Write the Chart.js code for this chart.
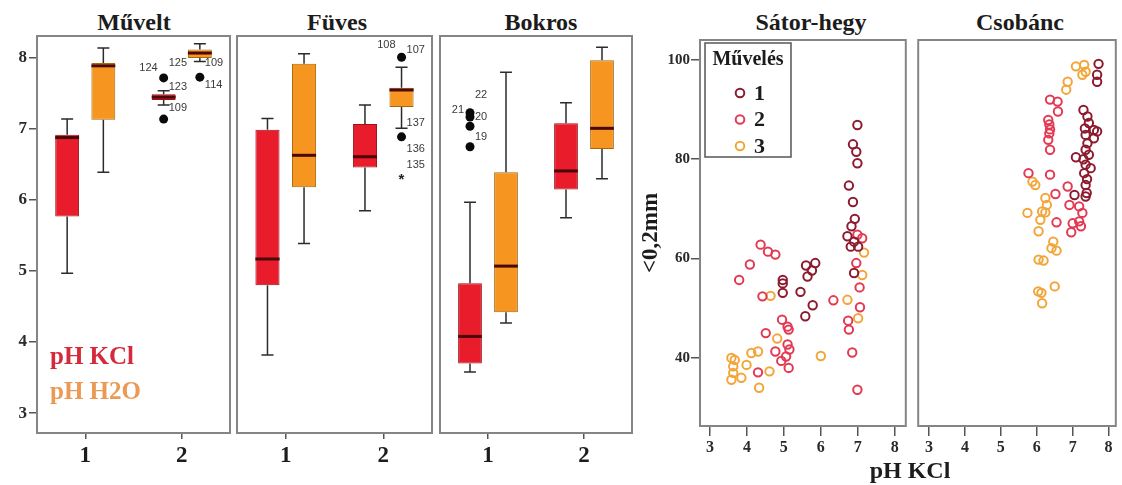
<!DOCTYPE html>
<html>
<head>
<meta charset="utf-8">
<script src="https://cdn.jsdelivr.net/npm/chart.js@4.4.0/dist/chart.umd.min.js"></script>
<style>
  body { margin: 0; background: #fff; }
  #page { position: relative; width: 1122px; height: 485px; overflow: hidden; background: #fff;
          font-family: 'Liberation Serif', 'Times New Roman', serif; }
  canvas { position: absolute; top: 0; }
  .ttl { position: absolute; top: 10px; font-weight: bold; font-size: 24px; color: #1c1c1c;
         transform: translateX(-50%); white-space: nowrap; line-height: 1; }
  .key { position: absolute; left: 50px; font-weight: bold; font-size: 25px; line-height: 1; white-space: nowrap; }
  .xname { position: absolute; top: 458px; left: 910px; transform: translateX(-50%); font-weight: bold;
           font-size: 24px; color: #1c1c1c; line-height: 1; white-space: nowrap; }
</style>
</head>
<body>
<div id="page">
  <div class="ttl" style="left:134px">Művelt</div>
  <div class="ttl" style="left:337px">Füves</div>
  <div class="ttl" style="left:541px">Bokros</div>
  <div class="ttl" style="left:811px">Sátor-hegy</div>
  <div class="ttl" style="left:1020px">Csobánc</div>

  <canvas id="cMuvelt" width="232" height="485" style="left:0px"></canvas>
  <canvas id="cFuves" width="199" height="485" style="left:235px"></canvas>
  <canvas id="cBokros" width="196" height="485" style="left:438px"></canvas>
  <canvas id="cSator" width="276" height="485" style="left:636px"></canvas>
  <canvas id="cCsobanc" width="210" height="485" style="left:912px"></canvas>

  <div class="key" style="top:343px;color:#d42a3c">pH KCl</div>
  <div class="key" style="top:378px;color:#eb9a55">pH H2O</div>
  <div class="xname">pH KCl</div>
</div>

<script>
const SERIF = "'Liberation Serif', 'Times New Roman', serif";
const SANS = "'Liberation Sans', Arial, sans-serif";

// ---- pH by land use: five-number summaries [lower whisker, Q1, median, Q3, upper whisker]
const groupLabels = ['1', '2'];
const seriesNames = ['pH KCl', 'pH H2O'];
const muveltKCl = [[4.97, 5.77, 6.88, 6.92, 7.14], [7.34, 7.41, 7.45, 7.49, 7.54]];
const muveltH2O = [[6.39, 7.13, 7.89, 7.93, 8.14], [7.95, 8.00, 8.07, 8.12, 8.20]];
const fuvesKCl  = [[3.82, 4.80, 5.17, 6.99, 7.15], [5.85, 6.46, 6.61, 7.07, 7.34]];
const fuvesH2O  = [[5.39, 6.18, 6.63, 7.92, 8.06], [7.01, 7.31, 7.55, 7.58, 7.87]];
const bokrosKCl = [[3.58, 3.70, 4.08, 4.83, 5.97], [5.75, 6.15, 6.41, 7.08, 7.37]];
const bokrosH2O = [[4.27, 4.42, 5.07, 6.39, 7.80], [6.30, 6.72, 7.01, 7.97, 8.15]];
const phTicks = [3, 4, 5, 6, 7, 8];

// outlying cases: [panel, group index, series index, value, marker]
const outlierCases = [
  ['Művelt', 1, 0, 7.72, 'dot'],
  ['Művelt', 1, 0, 7.14, 'dot'],
  ['Művelt', 1, 1, 7.73, 'dot'],
  ['Füves', 1, 1, 8.01, 'dot'],
  ['Füves', 1, 1, 6.89, 'dot'],
  ['Füves', 1, 1, 6.32, 'star'],
  ['Bokros', 0, 0, 7.23, 'dot'],
  ['Bokros', 0, 0, 7.17, 'dot'],
  ['Bokros', 0, 0, 7.04, 'dot'],
  ['Bokros', 0, 0, 6.75, 'dot']
];
// case numbers: [panel, group index, series index, text, value, side]
const caseNumbers = [
  ['Művelt', 1, 0, '124', 7.86, 'left'],
  ['Művelt', 1, 0, '125', 7.93, 'right'],
  ['Művelt', 1, 0, '123', 7.59, 'right'],
  ['Művelt', 1, 0, '109', 7.30, 'right'],
  ['Művelt', 1, 1, '109', 7.93, 'right'],
  ['Művelt', 1, 1, '114', 7.62, 'right'],
  ['Füves', 1, 1, '108', 8.18, 'left'],
  ['Füves', 1, 1, '107', 8.11, 'right'],
  ['Füves', 1, 1, '137', 7.08, 'right'],
  ['Füves', 1, 1, '136', 6.72, 'right'],
  ['Füves', 1, 1, '135', 6.50, 'right'],
  ['Bokros', 0, 0, '22', 7.48, 'right'],
  ['Bokros', 0, 0, '21', 7.27, 'left'],
  ['Bokros', 0, 0, '20', 7.17, 'right'],
  ['Bokros', 0, 0, '19', 6.89, 'right']
];

// ---- fine fraction (<0,2mm) against pH KCl, by cultivation class (Művelés)
const cultivationClasses = ['1', '2', '3'];
const satorClass1 = [[6.99, 86.9], [6.87, 83.0], [6.96, 81.5], [6.99, 79.2], [6.76, 74.7], [6.87, 71.4],
  [6.92, 68.0], [6.83, 66.5], [6.72, 64.5], [6.81, 62.4], [7.01, 62.4], [6.90, 63.4], [6.90, 57.1],
  [5.60, 58.6], [5.85, 59.1], [5.76, 57.6], [5.64, 56.4], [5.45, 53.3], [5.78, 50.6], [5.58, 48.4],
  [4.97, 55.7], [4.97, 55.0], [4.97, 53.1]];
const satorClass2 = [[6.99, 64.8], [7.12, 64.1], [6.96, 59.1], [7.05, 54.2], [7.06, 50.2], [6.74, 47.5],
  [6.76, 45.7], [6.34, 51.6], [6.85, 41.1], [6.99, 33.6], [4.37, 62.8], [4.57, 61.4], [4.77, 60.8],
  [4.08, 58.8], [3.79, 55.7], [4.42, 52.4], [4.95, 47.7], [5.10, 46.3], [5.13, 45.7], [4.51, 45.0],
  [5.10, 42.7], [5.15, 41.7], [5.06, 40.3], [4.77, 41.3], [4.93, 39.4], [5.13, 38.0], [4.30, 37.1]];
const satorClass3 = [[7.17, 61.2], [7.12, 56.7], [7.01, 48.0], [6.72, 51.7], [4.64, 52.5], [4.82, 43.9],
  [4.61, 37.3], [4.33, 34.0], [6.00, 40.4], [3.58, 40.0], [3.63, 38.3], [3.63, 37.0], [3.58, 35.6],
  [3.85, 36.0], [3.99, 38.6], [4.12, 41.0], [4.30, 41.3], [3.67, 39.6]];
const csobancClass1 = [[7.72, 99.2], [7.68, 97.0], [7.68, 95.6], [7.30, 89.9], [7.41, 88.6], [7.45, 87.3],
  [7.59, 85.9], [7.68, 85.6], [7.36, 84.9], [7.59, 84.2], [7.41, 83.2], [7.36, 81.9], [7.45, 80.9],
  [7.09, 80.4], [7.30, 80.0], [7.36, 78.9], [7.50, 78.2], [7.32, 77.2], [7.36, 74.8], [7.39, 73.2],
  [7.36, 72.5], [7.05, 72.8], [7.34, 86.2], [7.40, 76.0]];
const csobancClass2 = [[6.37, 92.0], [6.58, 91.6], [6.59, 89.6], [6.32, 87.9], [6.35, 87.0], [6.37, 86.0],
  [6.35, 85.2], [6.32, 83.9], [6.37, 81.9], [6.86, 74.5], [6.91, 70.8], [7.18, 70.5], [7.27, 69.2],
  [7.18, 67.5], [7.00, 67.1], [7.23, 66.5], [6.96, 65.3], [6.55, 67.3], [6.52, 73.0], [6.37, 76.9],
  [5.77, 77.2]];
const csobancClass3 = [[7.09, 98.7], [7.32, 99.0], [7.36, 97.6], [7.27, 97.0], [6.86, 95.6], [6.82, 94.0],
  [5.88, 75.5], [5.96, 74.8], [6.24, 72.2], [6.28, 70.8], [6.15, 69.5], [6.24, 69.3], [5.74, 69.2],
  [6.10, 67.8], [6.05, 65.5], [6.46, 63.4], [6.41, 62.1], [6.55, 61.6], [6.05, 59.8], [6.19, 59.6],
  [6.50, 54.4], [6.04, 53.4], [6.13, 53.1], [6.15, 51.0]];
const fineTicks = [40, 60, 80, 100];
const phKclTicks = [3, 4, 5, 6, 7, 8];

// ---- styling
const KCL_FILL = '#e81c2a', KCL_EDGE = '#9c1018';
const H2O_FILL = '#f6951f', H2O_EDGE = '#a9680e';
const CLASS_COLORS = ['#8c1b2f', '#e23a52', '#f2a63a'];
const FRAME = '#858585';

// panel outline around the plotting area
const framePlugin = {
  id: 'frame',
  afterDraw(chart) {
    const { ctx, chartArea: a } = chart;
    ctx.save();
    ctx.strokeStyle = FRAME;
    ctx.lineWidth = 2;
    ctx.strokeRect(a.left, a.top, a.right - a.left, a.bottom - a.top);
    ctx.restore();
  }
};

// whiskers, medians, outliers and case numbers on top of the floating bars
const boxPlugin = {
  id: 'boxDetail',
  beforeDatasetsDraw(chart) {
    const ctx = chart.ctx, y = chart.scales.y;
    ctx.save();
    ctx.strokeStyle = '#2b2b2b';
    ctx.lineWidth = 1.5;
    chart.data.datasets.forEach((ds, di) => {
      chart.getDatasetMeta(di).data.forEach((bar, i) => {
        const s = ds.stats[i];
        const cap = bar.width * 0.5;
        const yMin = y.getPixelForValue(s[0]), yQ1 = y.getPixelForValue(s[1]);
        const yQ3 = y.getPixelForValue(s[3]), yMax = y.getPixelForValue(s[4]);
        ctx.beginPath();
        ctx.moveTo(bar.x, yQ1); ctx.lineTo(bar.x, yMin);
        ctx.moveTo(bar.x, yQ3); ctx.lineTo(bar.x, yMax);
        ctx.moveTo(bar.x - cap / 2, yMin); ctx.lineTo(bar.x + cap / 2, yMin);
        ctx.moveTo(bar.x - cap / 2, yMax); ctx.lineTo(bar.x + cap / 2, yMax);
        ctx.stroke();
      });
    });
    ctx.restore();
  },
  afterDatasetsDraw(chart, args, opts) {
    const ctx = chart.ctx, y = chart.scales.y;
    const barAt = (g, s) => chart.getDatasetMeta(s).data[g];
    ctx.save();
    // medians
    ctx.strokeStyle = '#4a0808';
    ctx.lineWidth = 3;
    chart.data.datasets.forEach((ds, di) => {
      chart.getDatasetMeta(di).data.forEach((bar, i) => {
        const ym = y.getPixelForValue(ds.stats[i][2]);
        ctx.beginPath();
        ctx.moveTo(bar.x - bar.width / 2, ym);
        ctx.lineTo(bar.x + bar.width / 2, ym);
        ctx.stroke();
      });
    });
    // outlying cases
    outlierCases.filter(o => o[0] === opts.panel).forEach(([, g, s, v, marker]) => {
      const bar = barAt(g, s);
      const py = y.getPixelForValue(v);
      if (marker === 'dot') {
        ctx.fillStyle = '#0a0a0a';
        ctx.beginPath();
        ctx.arc(bar.x, py, 4.5, 0, Math.PI * 2);
        ctx.fill();
      } else {
        ctx.fillStyle = '#222';
        ctx.font = 'bold 15px ' + SANS;
        ctx.textAlign = 'center';
        ctx.textBaseline = 'middle';
        ctx.fillText('*', bar.x, py + 3);
      }
    });
    // case numbers
    ctx.fillStyle = '#3a3a3a';
    ctx.font = '11px ' + SANS;
    ctx.textBaseline = 'middle';
    caseNumbers.filter(c => c[0] === opts.panel).forEach(([, g, s, text, v, side]) => {
      const bar = barAt(g, s);
      const py = y.getPixelForValue(v);
      if (side === 'left') { ctx.textAlign = 'right'; ctx.fillText(text, bar.x - 6, py); }
      else { ctx.textAlign = 'left'; ctx.fillText(text, bar.x + 5, py); }
    });
    ctx.restore();
  }
};

function boxChart(canvasId, panel, kcl, h2o, showY, padLeft) {
  const stacks = [kcl, h2o];
  const fills = [KCL_FILL, H2O_FILL], edges = [KCL_EDGE, H2O_EDGE];
  return new Chart(document.getElementById(canvasId), {
    type: 'bar',
    data: {
      labels: groupLabels,
      datasets: stacks.map((st, k) => ({
        label: seriesNames[k],
        stats: st,
        data: st.map(s => [s[1], s[3]]),
        backgroundColor: fills[k],
        borderColor: edges[k],
        borderWidth: 1,
        borderSkipped: false,
        categoryPercentage: 0.75,
        barPercentage: 0.66
      }))
    },
    options: {
      responsive: false,
      animation: false,
      devicePixelRatio: 1,
      layout: { padding: { top: 36, bottom: 0, left: padLeft, right: 2 } },
      plugins: {
        legend: { display: false },
        tooltip: { enabled: false },
        boxDetail: { panel }
      },
      scales: {
        x: {
          offset: true,
          grid: { offset: false, drawOnChartArea: false, drawTicks: true, tickLength: 6, color: '#555', lineWidth: 1.5 },
          border: { display: false },
          ticks: { color: '#1c1c1c', padding: 3, font: { family: SERIF, size: 23, weight: 'bold' } },
          afterFit(s) { s.height = 52; }
        },
        y: {
          display: showY,
          min: 2.72,
          max: 8.31,
          afterBuildTicks(s) { s.ticks = phTicks.map(v => ({ value: v })); },
          grid: { drawOnChartArea: false, drawTicks: true, tickLength: 8, color: '#555', lineWidth: 1.5 },
          border: { display: false },
          ticks: { color: '#2a2a2a', padding: 2, font: { family: SERIF, size: 17, weight: 'bold' } },
          afterFit(s) { s.width = showY ? 37 : 0; }
        }
      }
    },
    plugins: [boxPlugin, framePlugin]
  });
}

boxChart('cMuvelt', 'Művelt', muveltKCl, muveltH2O, true, 0);
boxChart('cFuves', 'Füves', fuvesKCl, fuvesH2O, false, 2);
boxChart('cBokros', 'Bokros', bokrosKCl, bokrosH2O, false, 2);

// boxed key of cultivation classes inside the first scatter panel
const classKeyPlugin = {
  id: 'classKey',
  afterDraw(chart, args, opts) {
    if (!opts.show) return;
    const { ctx, chartArea: a } = chart;
    const x0 = a.left + 5, y0 = a.top + 3, w = 86, h = 114;
    ctx.save();
    ctx.fillStyle = '#fff';
    ctx.fillRect(x0, y0, w, h);
    ctx.strokeStyle = '#555';
    ctx.lineWidth = 1.5;
    ctx.strokeRect(x0, y0, w, h);
    ctx.fillStyle = '#1c1c1c';
    ctx.font = 'bold 20px ' + SERIF;
    ctx.textAlign = 'center';
    ctx.textBaseline = 'middle';
    ctx.fillText(opts.title, x0 + w / 2, y0 + 17);
    ctx.textAlign = 'left';
    ctx.font = 'bold 22px ' + SERIF;
    chart.data.datasets.forEach((ds, i) => {
      const cy = y0 + 50 + i * 26.5;
      ctx.strokeStyle = ds.borderColor;
      ctx.lineWidth = 2;
      ctx.beginPath();
      ctx.arc(x0 + 35, cy, 4.3, 0, Math.PI * 2);
      ctx.stroke();
      ctx.fillStyle = '#1c1c1c';
      ctx.fillText(ds.label, x0 + 49, cy + 1);
    });
    ctx.restore();
  }
};

function scatterChart(canvasId, classes, first) {
  return new Chart(document.getElementById(canvasId), {
    type: 'scatter',
    data: {
      datasets: classes.map((pts, k) => ({
        label: cultivationClasses[k],
        data: pts.map(([x, y]) => ({ x, y })),
        borderColor: CLASS_COLORS[k],
        backgroundColor: 'rgba(255,255,255,0)',
        pointRadius: 4.2,
        borderWidth: 2
      }))
    },
    options: {
      responsive: false,
      animation: false,
      devicePixelRatio: 1,
      layout: { padding: { top: 40, bottom: 0, left: first ? 0 : 4, right: first ? 4 : 2 } },
      plugins: {
        legend: { display: false },
        tooltip: { enabled: false },
        classKey: { show: first, title: 'Művelés' }
      },
      scales: {
        x: {
          type: 'linear',
          min: first ? 2.73 : 2.7,
          max: first ? 8.3 : 8.2,
          afterBuildTicks(s) { s.ticks = phKclTicks.map(v => ({ value: v })); },
          grid: { drawOnChartArea: false, drawTicks: true, tickLength: 10, color: '#555', lineWidth: 1.5 },
          border: { display: false },
          ticks: { color: '#2a2a2a', padding: 2, font: { family: SERIF, size: 16, weight: 'bold' } },
          afterFit(s) { s.height = 59; }
        },
        y: {
          display: first,
          min: 26.3,
          max: 104,
          afterBuildTicks(s) { s.ticks = fineTicks.map(v => ({ value: v })); },
          grid: { drawOnChartArea: false, drawTicks: true, tickLength: 9, color: '#555', lineWidth: 1.5 },
          border: { display: false },
          title: { display: true, text: '<0,2mm', color: '#1c1c1c', padding: { top: 1, bottom: 0 },
                   font: { family: SERIF, size: 23, weight: 'bold' } },
          ticks: { color: '#2a2a2a', padding: 1, font: { family: SERIF, size: 15, weight: 'bold' } },
          afterFit(s) { s.width = first ? 64 : 0; }
        }
      }
    },
    plugins: [framePlugin, classKeyPlugin]
  });
}

scatterChart('cSator', [satorClass1, satorClass2, satorClass3], true);
scatterChart('cCsobanc', [csobancClass1, csobancClass2, csobancClass3], false);
</script>
</body>
</html>
